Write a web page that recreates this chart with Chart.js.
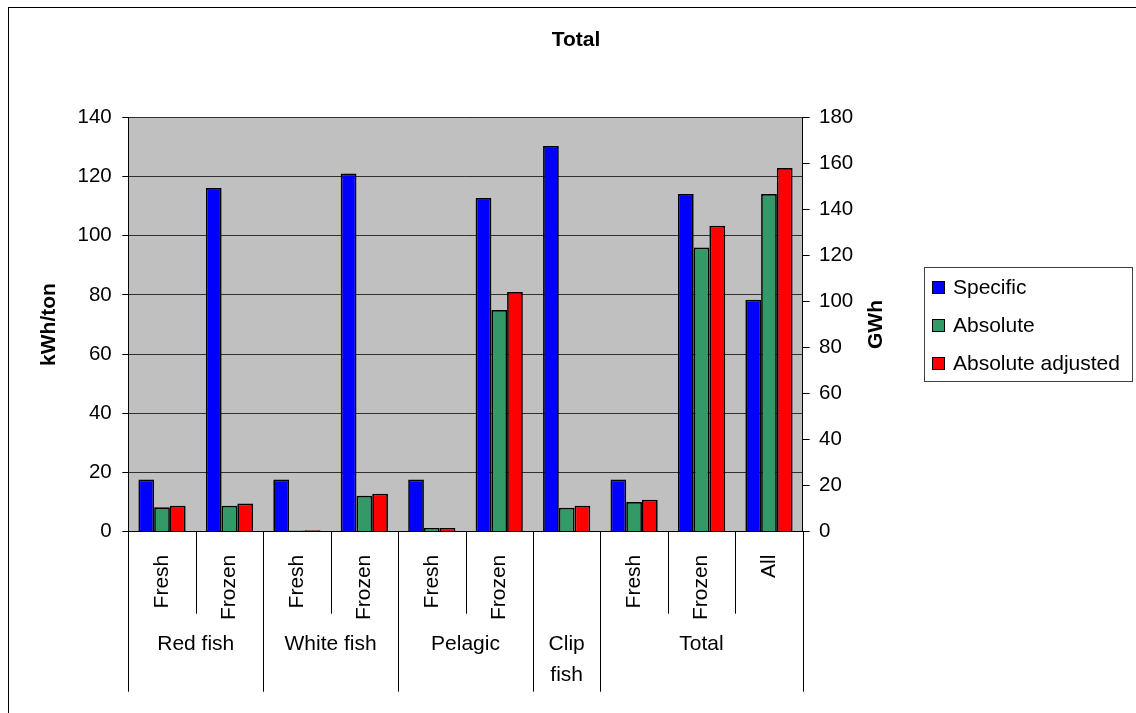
<!DOCTYPE html>
<html lang="en">
<head>
    <meta charset="utf-8">
    <title>Total</title>
    <script src="https://cdn.jsdelivr.net/npm/chart.js"></script>
    <style>
        body {
            margin: 0;
            padding: 0;
            background: #fff;
            overflow: hidden;
        }
        /* a bit wider than the window so the frame runs off the right edge */
        .wrap {
            position: relative;
            width: 1152px;
            height: 713px;
        }
    </style>
</head>
<body>
    <div class="wrap"><canvas id="fishChart"></canvas></div>

    <script>
        // data
        const subLabels = ['Fresh', 'Frozen', 'Fresh', 'Frozen', 'Fresh', 'Frozen', '', 'Fresh', 'Frozen', 'All'];
        const groupNames = ['Red fish', 'White fish', 'Pelagic', 'Clip fish', 'Total'];
        const groupSizes = [2, 2, 2, 1, 3];
        const specific = [17.6, 116.1, 17.6, 121.0, 17.6, 112.7, 130.3, 17.6, 114.1, 78.4];   // kWh/ton
        const absolute = [10.6, 11.3, 0.5, 15.6, 1.6, 96.3, 10.4, 12.9, 123.4, 146.7];        // GWh
        const adjusted = [11.3, 12.2, 0.6, 16.5, 1.6, 104.1, 11.3, 13.9, 132.9, 158.0];       // GWh
        const leftTicks = [0, 20, 40, 60, 80, 100, 120, 140];
        const rightTicks = [0, 20, 40, 60, 80, 100, 120, 140, 160, 180];

        const FONT = '"Liberation Sans", Arial, sans-serif';

        // gray plot area, outer frame, category boxes, legend, right title
        const decor = {
            id: 'decor',
            beforeDraw(chart) {
                const { ctx, chartArea: a } = chart;
                ctx.save();
                ctx.fillStyle = '#fff';
                ctx.fillRect(0, 0, chart.width, chart.height);
                ctx.fillStyle = '#c0c0c0';
                ctx.fillRect(a.left, a.top, a.right - a.left, a.bottom - a.top);
                ctx.strokeStyle = '#000';
                ctx.lineWidth = 1;
                ctx.strokeRect(8.5, 7.5, chart.width + 40, chart.height + 40);
                ctx.restore();
            },
            afterDraw(chart) {
                const { ctx, chartArea: a } = chart;
                const x = chart.scales.x;
                const base = a.bottom;
                ctx.save();
                ctx.strokeStyle = '#000';
                ctx.lineWidth = 1;
                ctx.fillStyle = '#000';
                ctx.font = '21px ' + FONT;
                ctx.textAlign = 'center';
                ctx.textBaseline = 'middle';

                const line = (px, len) => {
                    const xx = Math.round(px) + 0.5;
                    ctx.beginPath();
                    ctx.moveTo(xx, base);
                    ctx.lineTo(xx, base + len);
                    ctx.stroke();
                };

                let idx = 0;
                groupNames.forEach((name, g) => {
                    const n = groupSizes[g];
                    const x0 = x.getPixelForValue(idx - 0.5);
                    const x1 = x.getPixelForValue(idx + n - 0.5);
                    line(x0, 160);
                    for (let k = 1; k < n; k++) line(x.getPixelForValue(idx + k - 0.5), 82);
                    // wrap the group name if it does not fit its box
                    const words = name.split(' ');
                    let lines = [name];
                    if (ctx.measureText(name).width > x1 - x0 - 4 && words.length > 1) lines = words;
                    lines.forEach((t, j) => ctx.fillText(t, (x0 + x1) / 2, base + 113 + j * 31));
                    idx += n;
                });
                line(x.getPixelForValue(idx - 0.5), 160);

                // right axis title, reading upwards
                const y1 = chart.scales.y1;
                ctx.save();
                ctx.translate(a.right + 74, (a.top + a.bottom) / 2);
                ctx.rotate(-Math.PI / 2);
                ctx.font = 'bold 21px ' + FONT;
                ctx.fillText(y1.options.title.text, 0, 0);
                ctx.restore();

                // legend
                const lx = 924.5, ly = 267.5, lw = 208, lh = 114;
                ctx.strokeStyle = '#404040';
                ctx.strokeRect(lx, ly, lw, lh);
                ctx.textAlign = 'left';
                chart.data.datasets.forEach((ds, i) => {
                    const cy = 287 + i * 38;
                    ctx.fillStyle = ds.backgroundColor;
                    ctx.fillRect(932, cy - 6, 13, 13);
                    ctx.strokeStyle = '#000';
                    ctx.strokeRect(932.5, cy - 5.5, 12, 12);
                    ctx.fillStyle = '#000';
                    ctx.fillText(ds.label, 953, cy + 1);
                });
                ctx.restore();
            }
        };

        const ctx = document.getElementById('fishChart').getContext('2d');
        new Chart(ctx, {
            type: 'bar',
            data: {
                labels: subLabels,
                datasets: [
                    { label: 'Specific', data: specific, yAxisID: 'y', backgroundColor: '#0000ff' },
                    { label: 'Absolute', data: absolute, yAxisID: 'y1', backgroundColor: '#339966' },
                    { label: 'Absolute adjusted', data: adjusted, yAxisID: 'y1', backgroundColor: '#ff0000' }
                ]
            },
            options: {
                responsive: true,
                maintainAspectRatio: false,
                animation: false,
                layout: { padding: 0 },
                datasets: {
                    bar: {
                        borderColor: '#000',
                        borderWidth: 1.7,
                        categoryPercentage: 0.7,
                        barPercentage: 1.0
                    }
                },
                plugins: {
                    legend: { display: false },
                    tooltip: { enabled: false },
                    title: {
                        display: true,
                        text: 'Total',
                        color: '#000',
                        font: { family: FONT, size: 21, weight: 'bold' },
                        padding: { top: 27.4, bottom: 64.7 }
                    }
                },
                scales: {
                    x: {
                        grid: { display: false },
                        border: { display: true, color: '#000', width: 1 },
                        ticks: {
                            color: '#000',
                            font: { family: FONT, size: 21 },
                            minRotation: 90,
                            maxRotation: 90,
                            autoSkip: false,
                            padding: 15
                        },
                        afterFit(scale) { scale.height = 181.3; }
                    },
                    y: {
                        position: 'left',
                        min: 0,
                        max: 140,
                        afterBuildTicks(scale) { scale.ticks = leftTicks.map(v => ({ value: v })); },
                        grid: { color: '#303030', tickColor: '#000', tickLength: 6 },
                        border: { display: true, color: '#000', width: 1 },
                        ticks: { color: '#000', font: { family: FONT, size: 20.5 }, padding: 10.6 },
                        title: {
                            display: true,
                            text: 'kWh/ton',
                            color: '#000',
                            font: { family: FONT, size: 21, weight: 'bold' },
                            padding: { top: 36.4, bottom: 0 }
                        },
                        afterFit(scale) { scale.width = 128.3; }
                    },
                    y1: {
                        position: 'right',
                        min: 0,
                        max: 180,
                        afterBuildTicks(scale) { scale.ticks = rightTicks.map(v => ({ value: v })); },
                        grid: { drawOnChartArea: false, color: '#000', tickLength: 7 },
                        border: { display: true, color: '#000', width: 1 },
                        ticks: { color: '#000', font: { family: FONT, size: 20.5 }, padding: 9.3 },
                        title: { display: false, text: 'GWh' },
                        afterFit(scale) { scale.width = 1152 - 802.7; }
                    }
                }
            },
            plugins: [decor]
        });
    </script>
</body>
</html>
